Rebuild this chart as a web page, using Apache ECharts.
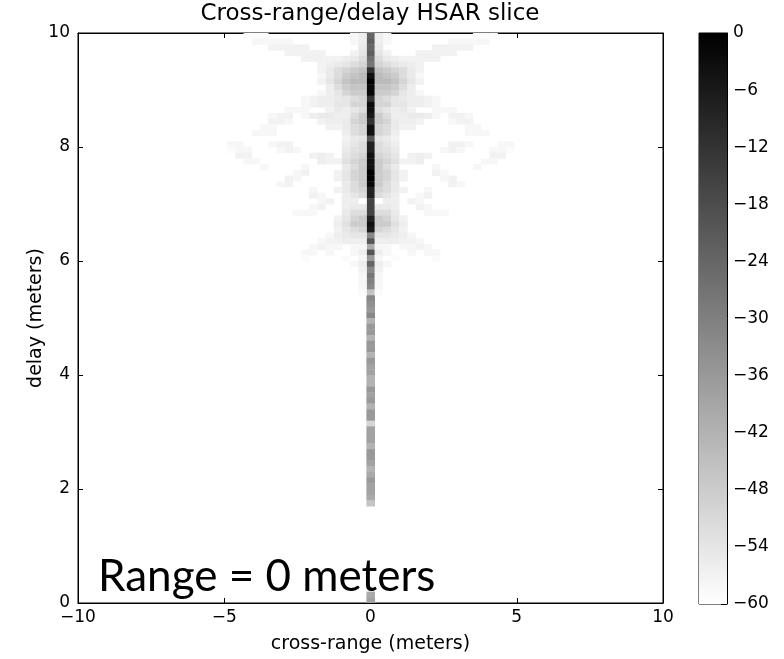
<!DOCTYPE html>
<html><head><meta charset="utf-8">
<script src="https://cdn.jsdelivr.net/npm/echarts@6/dist/echarts.min.js"></script>
<style>html,body{margin:0;padding:0;background:#fff}#c{width:784px;height:659px}</style>
</head><body><div id="c"></div><script>
const _ = null;
// cell sizes (metres)
const CROSS_STEP = 0.28;
const DELAY_STEP = 0.1;
const xTicks = [-10, -5, 0, 5, 10];
const yTicks = [0, 2, 4, 6, 8, 10];
const cbTicks = [0, -6, -12, -18, -24, -30, -36, -42, -48, -54, -60];

// central column (cross-range 0), delay bin centres, dB
const centerDelays = [9.95,9.85,9.75,9.65,9.55,9.45,9.35,9.25,9.15,9.05,8.95,8.85,8.75,8.65,8.55,8.45,8.35,8.25,8.15,8.05,
  7.95,7.85,7.75,7.65,7.55,7.45,7.35,7.25,7.15,7.05,6.95,6.85,6.75,6.65,6.55,6.45,6.35,6.25,6.15,6.05,
  5.95,5.85,5.75,5.65,5.55,5.45,5.35,5.25,5.15,5.05,4.95,4.85,4.75,4.65,4.55,4.45,4.35,4.25,4.15,4.05,
  3.95,3.85,3.75,3.65,3.55,3.45,3.35,3.25,3.15,3.05,2.95,2.85,2.75,2.65,2.55,2.45,2.35,2.25,2.15,2.05,
  1.95,1.85,1.75,0.15,0.05];
const centerValues = [-24,-22,-24,-22,-26,-28,-12,-4,0,-2,-2,-12,-3,-4,-6,-12,-4,-4,-20,-8,
  -8,-4,-4,-4,0,0,-2,-8,-8,-16,-16,-16,-8,-4,-6,-32,-20,-40,-20,-36,
  -24,-32,-28,-30,-32,-46,-32,-34,-36,-32,-42,-36,-36,-42,-36,-36,-42,-36,-38,-38,
  -42,-42,-36,-38,-36,-42,-36,-36,-50,-38,-38,-38,-42,-36,-36,-38,-42,-40,-36,-38,
  -38,-40,-46,-40,-38];

// side lobes: delay of each row, and dB values at column offsets 1,2,3,... (mirrored on both sides)
const wingDelays = [9.95,9.85,9.75,9.65,9.55,9.45,9.35,9.25,9.15,9.05,8.95,8.85,8.75,8.65,8.55,8.45,8.35,8.25,8.15,8.05,
  7.95,7.85,7.75,7.65,7.55,7.45,7.35,7.25,7.15,7.05,6.95,6.85,6.75,6.65,6.55,6.45,6.35,6.25,6.15,6.05,
  5.95,5.85,5.75,5.65,5.55,5.45];
const wingValues = [
  [-56,-58,_,_,_,_,_,_,_,_,_,_,-59,-59,-59],
  [-56,-58,_,_,_,_,_,_,_,-58,-58,-58,-58,-58],
  [-55,_,_,_,_,_,_,-57,-57,-57,-57,-57],
  [-54,-57,_,_,_,-57,-57,-57,-57,-57],
  [-52,-55,-56,-57,-57,-57,-57,-57],
  [-50,-52,-54,-55,-56,-57],
  [-46,-48,-50,-52,-55,-57],
  [-44,-46,-48,-52,-55,-58],
  [-44,-44,-46,-50,-54,-57],
  [-46,-46,-48,-52,-56],
  [-48,-48,-50,-54,-56,-58],
  [-50,-52,-54,-55,-56,-56,-57,-58],
  [-50,-50,-54,-54,-56,-56,-57,-58],
  [-52,-54,-56,-55,-57,_,_,-58,-58,-58],
  [-48,-52,-56,-56,-55,-55,-56,-58,_,-57,-57,-58],
  [-48,-50,-55,-56,-56,-57,_,_,_,-58,-57,-57],
  [-50,-52,-55,-57,-57,_,_,_,_,_,_,-58,-58],
  [-50,-52,-56,_,_,_,_,_,_,_,_,-58,-58,-58],
  [-54,-55,-57],
  [-52,-54,-56,_,_,_,_,_,_,-57,-57,-58,_,_,_,-58,-58],
  [-52,-53,-55,_,_,_,_,_,-58,-57,-58,_,_,_,-58,-58,-59],
  [-50,-52,-54,_,-57,-56,-57,_,_,_,_,_,_,_,-57,-57],
  [-48,-50,-53,-57,-57,-56,_,_,_,_,_,_,_,-58,-58],
  [-48,-52,-55,_,_,_,_,-58,_,_,_,_,-58],
  [-48,-50,-54,-57,_,_,_,-57,-58],
  [-48,-50,-54,-57,_,_,_,_,-58,-57],
  [-48,-52,-55,_,_,_,_,_,_,-57,-58],
  [-50,-52,-55,-57,_,_,-58],
  [-52,-54,-56,_,_,-58,-57],
  [-60,-56,-56,_,-57,-58],
  [-55,-55,-56,_,_,-57,-58],
  [-52,-52,-55,_,_,_,-58,-58,-58],
  [-48,-50,-54,-57],
  [-48,-48,-53,-56],
  [-50,-52,-54,-57],
  [-54,-54,-55,-56,-58],
  [-56,-56,-56,-57,-57,-58],
  [-58,-58,_,-58,-58,-57,-58],
  [-56,-58,_,_,-58,_,-58,-58],
  [-58,_,-59,_,_,_,_,-59],
  [-56,-58],
  [-57],
  [-58],
  [-58],
  [-58],
  [-59]
];

// build [cross-range, delay, dB] cells
const cells = [];
centerDelays.forEach((d, i) => cells.push([0, d, centerValues[i]]));
wingDelays.forEach((d, i) => {
  wingValues[i].forEach((v, j) => {
    if (v === null) return;
    const off = (j + 1) * CROSS_STEP;
    cells.push([-off, d, v]);
    cells.push([off, d, v]);
  });
});

const FONT = 'DejaVu Sans';
const TS = 17;
const fmt = v => (v < 0 ? '\u2212' + Math.abs(v) : String(v));
const tickStyle = {inside: true, length: 5, lineStyle: {color: '#000', width: 1}};
const lineStyle = {show: true, onZero: false, lineStyle: {color: '#000', width: 1}};
const labelStyle = {fontFamily: FONT, fontSize: TS, color: '#000'};

const chart = echarts.init(document.getElementById('c'));
chart.setOption({
  animation: false,
  backgroundColor: '#fff',
  grid: [
    {left: 78, top: 33, width: 585, height: 570, show: true, borderColor: '#000', borderWidth: 1, backgroundColor: 'transparent'},
    {left: 699, top: 33, width: 28, height: 571, show: true, borderColor: '#000', borderWidth: 1, backgroundColor: 'transparent'}
  ],
  xAxis: [
    {gridIndex: 0, type: 'value', min: xTicks[0], max: xTicks[xTicks.length - 1], interval: 5, position: 'bottom',
     axisLine: lineStyle, axisTick: tickStyle, splitLine: {show: false},
     axisLabel: Object.assign({formatter: fmt, margin: 6, showMinLabel: true, showMaxLabel: true}, labelStyle),
     name: 'cross-range (meters)', nameLocation: 'middle', nameGap: 32,
     nameTextStyle: {fontFamily: FONT, fontSize: 19, color: '#000'}},
    {gridIndex: 0, type: 'value', min: xTicks[0], max: xTicks[xTicks.length - 1], interval: 5, position: 'top',
     axisLine: lineStyle, axisTick: tickStyle, splitLine: {show: false}, axisLabel: {show: false}},
    {gridIndex: 1, type: 'value', min: 0, max: 1, show: false}
  ],
  yAxis: [
    {gridIndex: 0, type: 'value', min: yTicks[0], max: yTicks[yTicks.length - 1], interval: 2, position: 'left',
     axisLine: lineStyle, axisTick: tickStyle, splitLine: {show: false},
     axisLabel: Object.assign({formatter: fmt, margin: 8, showMinLabel: true, showMaxLabel: true}, labelStyle),
     name: 'delay (meters)', nameLocation: 'middle', nameGap: 32, nameRotate: 90, nameMoveOverlap: false,
     nameTextStyle: {fontFamily: FONT, fontSize: 19, color: '#000'}},
    {gridIndex: 0, type: 'value', min: yTicks[0], max: yTicks[yTicks.length - 1], interval: 2, position: 'right',
     axisLine: lineStyle, axisTick: tickStyle, splitLine: {show: false}, axisLabel: {show: false}},
    {gridIndex: 1, type: 'value', min: cbTicks[cbTicks.length - 1], max: cbTicks[0], interval: 6, position: 'right',
     axisLine: lineStyle, axisTick: Object.assign({}, tickStyle, {length: 6}), splitLine: {show: false},
     axisLabel: Object.assign({formatter: fmt, margin: 6, showMinLabel: true, showMaxLabel: true}, labelStyle)}
  ],
  visualMap: {
    show: false, type: 'continuous', min: -60, max: 0, dimension: 2, seriesIndex: 0,
    inRange: {color: ['#ffffff', '#000000']}
  },
  series: [
    {type: 'custom', xAxisIndex: 0, yAxisIndex: 0, clip: true,
     data: cells, encode: {x: 0, y: 1},
     renderItem: (params, api) => {
       const x = api.value(0), y = api.value(1);
       const p = api.coord([x - CROSS_STEP / 2, y + DELAY_STEP / 2]);
       const s = api.size([CROSS_STEP, DELAY_STEP]);
       return {type: 'rect', shape: {x: p[0], y: p[1], width: s[0] + 0.4, height: s[1] + 0.4},
               style: {fill: api.visual('color')}};
     }},
    {type: 'custom', xAxisIndex: 2, yAxisIndex: 2, data: [[0, 0]], encode: {x: 0, y: 1},
     renderItem: (params, api) => {
       const p0 = api.coord([0, cbTicks[0]]);
       const p1 = api.coord([1, cbTicks[cbTicks.length - 1]]);
       return {type: 'rect', shape: {x: p0[0], y: p0[1], width: p1[0] - p0[0], height: p1[1] - p0[1]},
               style: {fill: new echarts.graphic.LinearGradient(0, 0, 0, 1,
                 [{offset: 0, color: '#000000'}, {offset: 1, color: '#ffffff'}])}};
     }}
  ],
  graphic: [
    {type: 'text', x: 370, y: 14, style: {text: 'Cross-range/delay HSAR slice', fontFamily: FONT, fontSize: 23,
      fill: '#000', textAlign: 'center', textVerticalAlign: 'middle'}},
    {type: 'text', x: 98, y: 577, style: {text: 'Range = 0 meters', fontFamily: 'Lato', fontSize: 44,
      fill: '#000', textAlign: 'left', textVerticalAlign: 'middle'}}
  ]
});
</script></body></html>
